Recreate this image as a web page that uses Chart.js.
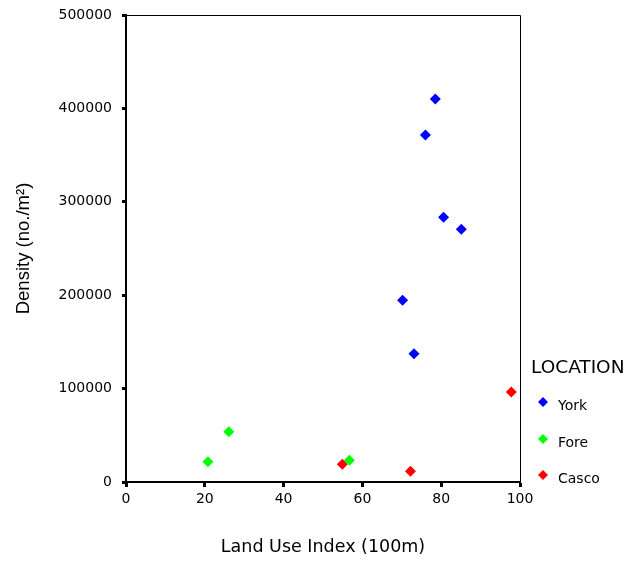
<!DOCTYPE html>
<html>
<head>
<meta charset="utf-8">
<title>Density vs Land Use Index</title>
<script src="https://cdn.jsdelivr.net/npm/chart.js@4/dist/chart.umd.min.js"></script>
<style>
  html, body { margin: 0; padding: 0; background: #fff; }
  #wrap { width: 633px; height: 561px; }
</style>
</head>
<body>
<div id="wrap"><canvas id="chart" width="633" height="561"></canvas></div>
<script>
// --- data ---
const locations = ['York', 'Fore', 'Casco'];
const colours   = ['#0000ff', '#00ff00', '#ff0000'];

const yorkX  = [78.5, 76.0, 80.6, 85.1, 70.2, 73.1];
const yorkY  = [410000, 371500, 283400, 270500, 194500, 137400];
const foreX  = [20.8, 26.1, 56.7];
const foreY  = [21700, 53900, 23200];
const cascoX = [54.9, 72.2, 97.8];
const cascoY = [19000, 11500, 96400];

const xLimits = [0, 100, 20];          // min, max, step
const yLimits = [0, 500000, 100000];

function toPoints(xs, ys) {
  return xs.map((x, i) => ({ x: x, y: ys[i] }));
}

const seriesX = [yorkX, foreX, cascoX];
const seriesY = [yorkY, foreY, cascoY];

const datasets = locations.map((name, i) => ({
  label: name,
  data: toPoints(seriesX[i], seriesY[i]),
  backgroundColor: colours[i],
  borderColor: colours[i],
  borderWidth: 0,
  pointStyle: 'rectRot',
  pointRadius: 5.5,
  pointHoverRadius: 5.5
}));

// top + right frame and the legend block at the right
const frameAndLegend = {
  id: 'frameAndLegend',
  afterDraw(chart) {
    const { ctx, chartArea: a } = chart;
    ctx.save();
    ctx.strokeStyle = '#000';
    ctx.lineWidth = 1;
    ctx.beginPath();
    ctx.moveTo(a.left, a.top + 0.5);
    ctx.lineTo(a.right + 0.5, a.top + 0.5);
    ctx.lineTo(a.right + 0.5, a.bottom);
    ctx.stroke();

    ctx.fillStyle = '#000';
    ctx.textBaseline = 'middle';
    ctx.textAlign = 'left';
    ctx.font = '18.5px "DejaVu Sans"';
    ctx.fillText('LOCATION', 531, 368);

    ctx.font = '14px "DejaVu Sans"';
    const rows = [406, 443, 479];
    chart.data.datasets.forEach((ds, i) => {
      const cy = rows[i] - 4;
      ctx.fillStyle = ds.backgroundColor;
      ctx.beginPath();
      ctx.moveTo(543 - 5, cy);
      ctx.lineTo(543, cy - 5);
      ctx.lineTo(543 + 5, cy);
      ctx.lineTo(543, cy + 5);
      ctx.closePath();
      ctx.fill();
      ctx.fillStyle = '#000';
      ctx.fillText(ds.label, 558, rows[i]);
    });
    ctx.restore();
  }
};

new Chart(document.getElementById('chart'), {
  type: 'scatter',
  data: { datasets },
  options: {
    responsive: false,
    animation: false,
    layout: { padding: { top: 15, right: 113, bottom: 0, left: 0 } },
    plugins: {
      legend: { display: false },
      tooltip: { enabled: false }
    },
    scales: {
      x: {
        type: 'linear',
        min: xLimits[0],
        max: xLimits[1],
        afterFit: s => { s.height = 79; },
        ticks: {
          stepSize: xLimits[2],
          color: '#000',
          padding: 4,
          font: { family: 'DejaVu Sans', size: 14 },
          maxRotation: 0
        },
        grid: {
          drawOnChartArea: false,
          tickLength: 5,
          tickWidth: 3,
          tickColor: '#000'
        },
        border: { display: true, color: '#000', width: 2 },
        title: {
          display: true,
          text: 'Land Use Index (100m)',
          color: '#000',
          font: { family: 'DejaVu Sans', size: 17.5 },
          padding: { top: 0, bottom: 3 }
        }
      },
      y: {
        type: 'linear',
        min: yLimits[0],
        max: yLimits[1],
        afterFit: s => { s.width = 126; s.paddingTop = 0; },
        ticks: {
          stepSize: yLimits[2],
          color: '#000',
          padding: 10,
          font: { family: 'DejaVu Sans', size: 14 },
          callback: v => String(v)
        },
        grid: {
          drawOnChartArea: false,
          tickLength: 4,
          tickWidth: 3,
          tickColor: '#000'
        },
        border: { display: true, color: '#000', width: 2 },
        title: {
          display: true,
          text: 'Density (no./m²)',
          color: '#000',
          font: { family: 'Liberation Sans', size: 18.5 },
          padding: { top: 13, bottom: 0 }
        }
      }
    }
  },
  plugins: [frameAndLegend]
});
</script>
</body>
</html>
